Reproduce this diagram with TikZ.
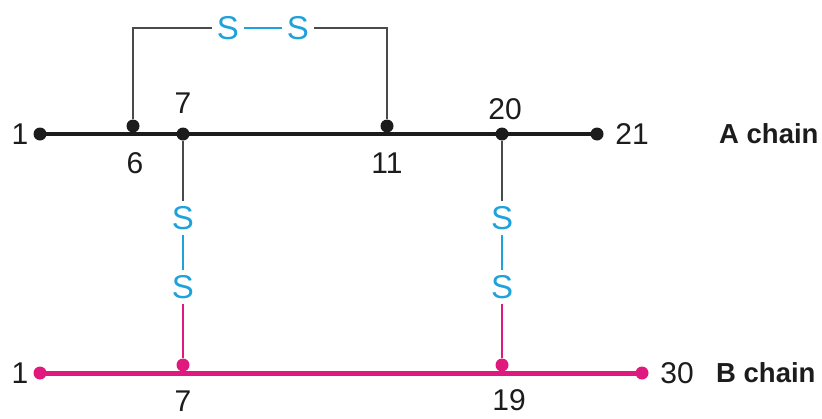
\documentclass[tikz,border=0pt]{standalone}
\usepackage{fontspec}
\setmainfont{Liberation Sans}
\usetikzlibrary{positioning}
\definecolor{mBlack}{HTML}{1C1C1C}
\definecolor{mGray}{HTML}{4A4A4A}
\definecolor{mCyan}{HTML}{1EA2DA}
\definecolor{mPink}{HTML}{E0197F}

\begin{document}
\begin{tikzpicture}[x=1pt, y=-1pt,
  every node/.style={font=\fontsize{30}{30}\selectfont, text=mBlack, inner sep=0pt},
  adot/.style={circle, fill=mBlack, minimum size=13pt},
  bdot/.style={circle, fill=mPink, minimum size=13pt},
  sulfur/.style={text=mCyan, font=\fontsize{33}{33}\selectfont, outer sep=5pt},
  chainlabel/.style={font=\fontsize{27.5}{28}\selectfont\bfseries},
  bond/.style={mGray, line width=1.8pt},
]
  \useasboundingbox (0,0) rectangle (822,418);

  % A chain
  \node[adot] (a1) at (40,134) {};
  \node[adot] (a6) at (133,126) {};
  \node[adot] (a7) at (183,134) {};
  \node[adot] (a11) at (387,126) {};
  \node[adot] (a20) at (502,134) {};
  \node[adot] (a21) at (597,134) {};
  \draw[mBlack, line width=4.2pt] (a1.center) -- (a21.center);
  \node (la1) at (20,134) {1};
  \node (la6) at (135,163) {6};
  \node (la7) at (183,103) {7};
  \node (la11) at (387,163) {11};
  \node (la20) at (505,109) {20};
  \node (la21) at (632,134) {21};
  \node[chainlabel, anchor=west] (achain) at (719,134) {A chain};

  % B chain
  \node[bdot] (b1) at (40,373) {};
  \node[bdot] (b7) at (183,365) {};
  \node[bdot] (b19) at (502,365) {};
  \node[bdot] (b30) at (642,373) {};
  \draw[mPink, line width=5pt] (b1.center) -- (b30.center);
  \node (lb1) at (20,373) {1};
  \node (lb7) at (183,401) {7};
  \node (lb19) at (509,400) {19};
  \node (lb30) at (677,373) {30};
  \node[chainlabel, anchor=west] (bchain) at (716,373) {B chain};

  % disulfide bridges
  \node[sulfur] (s6) at (228,28) {S};
  \node[sulfur] (s11) at (298,28) {S};
  \draw[bond] (a6) |- (s6);
  \draw[mCyan, line width=1.5pt] (s6) -- (s11);
  \draw[bond] (s11) -| (a11);

  \node[sulfur] (sa7) at (183,218) {S};
  \node[sulfur] (sb7) at (183,287) {S};
  \draw[bond] (a7) -- (sa7);
  \draw[mCyan, line width=1.5pt] (sa7) -- (sb7);
  \draw[mPink, line width=1.8pt] (sb7) -- (b7);

  \node[sulfur] (sa20) at (502,218) {S};
  \node[sulfur] (sb19) at (502,287) {S};
  \draw[bond] (a20) -- (sa20);
  \draw[mCyan, line width=1.5pt] (sa20) -- (sb19);
  \draw[mPink, line width=1.8pt] (sb19) -- (b19);
\end{tikzpicture}
\end{document}
